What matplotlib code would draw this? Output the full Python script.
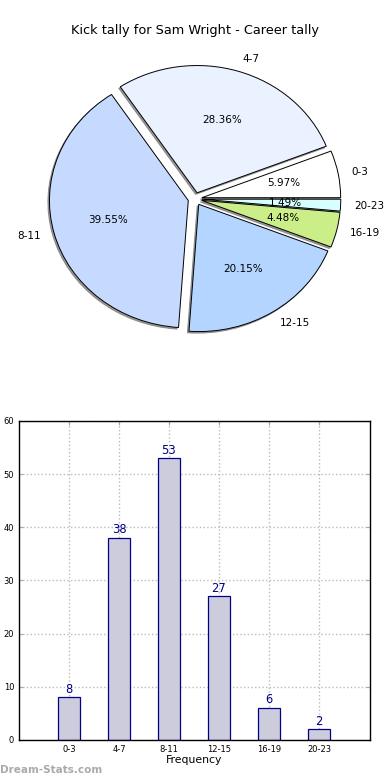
import matplotlib
matplotlib.use("Agg")
import matplotlib.pyplot as plt
import numpy as np

categories = ["0-3", "4-7", "8-11", "12-15", "16-19", "20-23"]
counts = [8, 38, 53, 27, 6, 2]
pie_colors = ["#ffffff", "#eaf1ff", "#c6d9ff", "#b3d5ff", "#ccee88", "#d6ffff"]
title = "Kick tally for Sam Wright - Career tally"
yticks = [0, 10, 20, 30, 40, 50, 60]

fig = plt.figure(figsize=(3.9, 7.8), dpi=100)

# Pie chart (stretched like old matplotlib, aspect auto)
ax1 = fig.add_axes([0.055, 0.541, 0.89, 0.408])
wedges, texts, autotexts = ax1.pie(
    counts, labels=categories, colors=pie_colors, explode=[0.05] * len(counts),
    autopct="%1.2f%%", startangle=0, labeldistance=1.1, pctdistance=0.6,
    shadow=dict(ox=-0.008, oy=-0.009, facecolor="#777777", edgecolor="#777777", alpha=0.75),
    wedgeprops=dict(edgecolor="black", linewidth=0.7),
    textprops=dict(fontsize=7.5),
)
ax1.set_aspect("auto")
ax1.set_xlim(-1.25, 1.25)
ax1.set_ylim(-1.25, 1.25)
fig.text(0.5, 0.961, title, ha="center", va="center", fontsize=9.3)

# Bar chart
ax2 = fig.add_axes([0.0487, 0.0513, 0.9, 0.409])
x = np.arange(len(categories))
ax2.bar(x, counts, width=0.45, color="#ccccdd", edgecolor="#000088", linewidth=0.9, zorder=2)
for xi, v in zip(x, counts):
    ax2.text(xi, v + 0.3, str(v), ha="center", va="bottom", color="#000088", fontsize=8.3)
ax2.set_xlim(-1, 6.02)
ax2.set_ylim(0, 60)
ax2.set_yticks(yticks)
ax2.set_xticks(x)
ax2.set_xticklabels(categories)
ax2.tick_params(axis="both", direction="in", labelsize=6, top=True, right=True, length=3,
                color="#aaaaaa")
ax2.grid(True, linestyle=":", color="#bbbbbb", linewidth=1.0, zorder=0)
ax2.set_axisbelow(True)
ax2.set_xlabel("Frequency", fontsize=7.8, labelpad=1)
for s in ax2.spines.values():
    s.set_linewidth(1.0)
    s.set_color("black")

fig.text(0.0, 0.0128, "Dream-Stats.com", ha="left", va="center", fontsize=7.5,
         fontweight="bold", color="#aaaaaa")

fig.savefig("out.png", dpi=100)
